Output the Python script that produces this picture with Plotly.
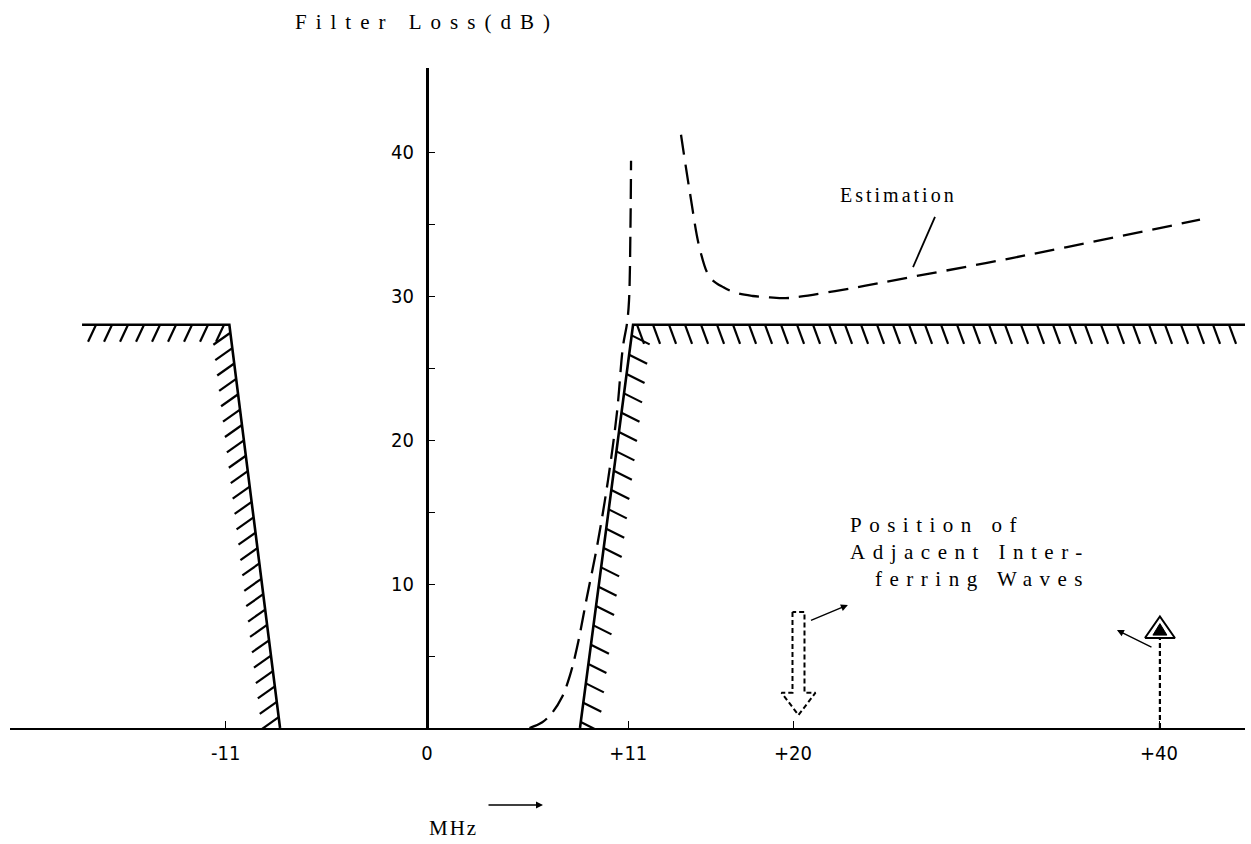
import numpy as np
import plotly.graph_objects as go

# ---------------- data ----------------
x_ticks = [-11, 0, 11, 20, 40]
x_tick_labels = ["-11", "0", "+11", "+20", "+40"]
y_ticks = [5, 10, 15, 20, 25, 30, 35, 40]
y_tick_labels = ["", "10", "", "20", "", "30", "", "40"]

# required attenuation mask (solid lines)
mask_left_x = [-18.85, -10.8, -8.03]
mask_left_y = [28.0, 28.0, 0.0]
mask_right_x = [8.36, 11.26, 44.7]
mask_right_y = [0.0, 28.0, 28.0]

# estimated filter loss (dashed)
est_low_x = [5.6, 6.3, 6.83, 7.38, 7.8, 8.2, 8.74, 9.29, 9.89, 10.38, 10.71, 10.93, 11.04, 11.12, 11.15]
est_low_y = [0.0, 0.4, 1.04, 2.15, 3.6, 5.6, 9.1, 12.6, 17.2, 21.9, 26.5, 28.1, 29.7, 35.0, 39.4]
est_high_x = [13.88, 14.37, 14.92, 15.46, 16.2, 16.94, 17.8, 18.74, 19.6, 20.38, 23.28, 26.39, 30.6, 34.97, 42.24]
est_high_y = [41.2, 37.15, 33.2, 31.3, 30.6, 30.2, 30.0, 29.9, 29.85, 29.95, 30.56, 31.3, 32.3, 33.4, 35.3]

# positions of adjacent interfering waves (MHz)
wave_down_x = 20.3
wave_up_x = 40.05

# ---------------- geometry ----------------
W, H = 1251, 844
ML, MR, MT, MB = 10, 6, 68, 116
PX_PER_X = 18.3
PX_PER_Y = 14.4
X0_PX = 427
xr = [(ML - X0_PX) / PX_PER_X, (W - MR - X0_PX) / PX_PER_X]
yr = [0, (H - MT - MB) / PX_PER_Y]
PLOT_H = H - MT - MB


def dxp(px):
    return px / PX_PER_X


def hatch(xa, ya, xb, yb, step_px, off_x_px, off_y_px, skip_start=0.0, skip_end=0.0):
    """short hatch strokes along segment a->b; offsets in pixels (down positive)"""
    ax, ay = xa * PX_PER_X, -ya * PX_PER_Y
    bx, by = xb * PX_PER_X, -yb * PX_PER_Y
    L = np.hypot(bx - ax, by - ay)
    n = int((L - skip_start - skip_end) // step_px) + 1
    xs, ys = [], []
    for i in range(n):
        t = (skip_start + i * step_px) / L
        px = ax + t * (bx - ax)
        py = ay + t * (by - ay)
        xs += [px / PX_PER_X, (px + off_x_px) / PX_PER_X, None]
        ys += [-py / PX_PER_Y, -(py + off_y_px) / PX_PER_Y, None]
    return xs, ys


fig = go.Figure()
black = "#000000"

# hatches
hx, hy = [], []
for seg in [
    hatch(mask_left_x[0], mask_left_y[0], mask_left_x[1], mask_left_y[1], 16, -8, 17, 14, 4),
    hatch(mask_left_x[1], mask_left_y[1], mask_left_x[2], mask_left_y[2], 15.5, -17, 12, 8, 8),
    hatch(mask_right_x[0], mask_right_y[0], mask_right_x[1], mask_right_y[1], 19.5, 18, 9, 6, 8),
    hatch(mask_right_x[1], mask_right_y[1], mask_right_x[2], mask_right_y[2], 16, 7, 19, 4, 4),
]:
    hx += seg[0]
    hy += seg[1]
fig.add_trace(go.Scatter(x=hx, y=hy, mode="lines", line=dict(color=black, width=2.2),
                         hoverinfo="skip", showlegend=False))

# mask lines
fig.add_trace(go.Scatter(x=mask_left_x, y=mask_left_y, mode="lines",
                         line=dict(color=black, width=2.6), showlegend=False))
fig.add_trace(go.Scatter(x=mask_right_x, y=mask_right_y, mode="lines",
                         line=dict(color=black, width=2.6), showlegend=False))

# estimation dashed curves
fig.add_trace(go.Scatter(x=est_low_x, y=est_low_y, mode="lines", line_shape="spline",
                         line=dict(color=black, width=2.3, dash="20px,9px"), showlegend=False))
fig.add_trace(go.Scatter(x=est_high_x, y=est_high_y, mode="lines", line_shape="spline",
                         line=dict(color=black, width=2.3, dash="20px,10px"), showlegend=False))

# estimation leader line
fig.add_trace(go.Scatter(x=[27.76, 26.56], y=[35.49, 32.01], mode="lines",
                         line=dict(color=black, width=1.8), showlegend=False))

# hollow dashed down-arrow at +20
c = wave_down_x
top, base, tip = 8.06, 2.45, 0.9
hw, HW = dxp(6), dxp(17)
arr_x = [c - hw, c - hw, c - HW, c, c + HW, c + hw, c + hw, c - hw]
arr_y = [top, base, base, tip, base, base, top, top]
fig.add_trace(go.Scatter(x=arr_x, y=arr_y, mode="lines",
                         line=dict(color=black, width=2, dash="5px,3px"), showlegend=False))

# up arrow at +40
c2 = wave_up_x
fig.add_trace(go.Scatter(x=[c2, c2], y=[0, 6.25], mode="lines",
                         line=dict(color=black, width=2.2, dash="5px,3px"), showlegend=False))
fig.add_trace(go.Scatter(x=[c2 - dxp(15), c2, c2 + dxp(15), c2 - dxp(15)], y=[6.25, 7.75, 6.25, 6.25],
                         mode="lines", line=dict(color=black, width=2), showlegend=False))
fig.add_trace(go.Scatter(x=[c2 - dxp(7), c2, c2 + dxp(7), c2 - dxp(7)], y=[6.45, 7.25, 6.45, 6.45],
                         mode="lines", fill="toself", fillcolor=black,
                         line=dict(color=black, width=1), showlegend=False))

serif = "Liberation Serif, Times New Roman, serif"
narrow = "Liberation Sans Narrow, DejaVu Sans Condensed, Arial Narrow, sans-serif"


def spaced(txt, ls):
    return '<span style="letter-spacing:%.1fpx">%s</span>' % (ls, txt)


ann = []
ann.append(dict(x=dxp(293 - X0_PX), xref="x", y=1 + 46 / PLOT_H, yref="paper",
                text=spaced("Filter Loss(dB)", 9),
                showarrow=False, xanchor="left", yanchor="middle",
                font=dict(family=serif, size=21, color=black)))
ann.append(dict(x=dxp(838 - X0_PX), y=37.0, xref="x", yref="y",
                text=spaced("Estimation", 3),
                showarrow=False, xanchor="left", yanchor="middle",
                font=dict(family=serif, size=20, color=black)))
for txt, xpx, yy in [("Position of", 848, 14.1), ("Adjacent Inter-", 848, 12.22), ("ferring Waves", 873, 10.35)]:
    ann.append(dict(x=dxp(xpx - X0_PX), y=yy, xref="x", yref="y",
                    text=spaced(txt, 7.5),
                    showarrow=False, xanchor="left", yanchor="middle",
                    font=dict(family=serif, size=21, color=black)))
ann.append(dict(x=dxp(453 - X0_PX), xref="x", y=-100 / PLOT_H, yref="paper",
                text=spaced("MHz", 2), showarrow=False, xanchor="center", yanchor="middle",
                font=dict(family=serif, size=21, color=black)))
# MHz arrow
ann.append(dict(x=dxp(543 - X0_PX), xref="x", y=-77 / PLOT_H, yref="paper", text="",
                showarrow=True, axref="pixel", ayref="pixel", ax=-56, ay=0,
                arrowhead=2, arrowsize=1, arrowwidth=1.4, arrowcolor=black))
# leader arrows near interfering waves
ann.append(dict(x=23.0, y=8.54, xref="x", yref="y", text="", showarrow=True,
                axref="x", ayref="y", ax=20.9, ay=7.43,
                arrowhead=2, arrowsize=1, arrowwidth=1.4, arrowcolor=black))
ann.append(dict(x=37.7, y=6.8, xref="x", yref="y", text="", showarrow=True,
                axref="x", ayref="y", ax=39.67, ay=5.56,
                arrowhead=2, arrowsize=1, arrowwidth=1.4, arrowcolor=black))

fig.update_layout(
    width=W, height=H,
    margin=dict(l=ML, r=MR, t=MT, b=MB),
    paper_bgcolor="white", plot_bgcolor="white",
    showlegend=False,
    annotations=ann,
    xaxis=dict(range=xr, showgrid=False, zeroline=False, showline=True, linecolor=black, linewidth=1.6,
               tickmode="array", tickvals=x_ticks, ticktext=x_tick_labels,
               ticks="inside", ticklen=7, tickwidth=1.2, tickcolor=black,
               ticklabelstandoff=6,
               tickfont=dict(family=narrow, size=20, color=black)),
    yaxis=dict(range=yr, showgrid=False, zeroline=False, showline=True, linecolor=black, linewidth=3,
               anchor="free", position=(X0_PX - ML) / (W - ML - MR),
               tickmode="array", tickvals=y_ticks, ticktext=y_tick_labels,
               ticks="inside", ticklen=6, tickwidth=1.2, tickcolor=black,
               ticklabelstandoff=8,
               tickfont=dict(family=narrow, size=20, color=black)),
)

fig.write_html("out.html", config={"displayModeBar": False},
               post_script="document.body.style.margin='0px';")
